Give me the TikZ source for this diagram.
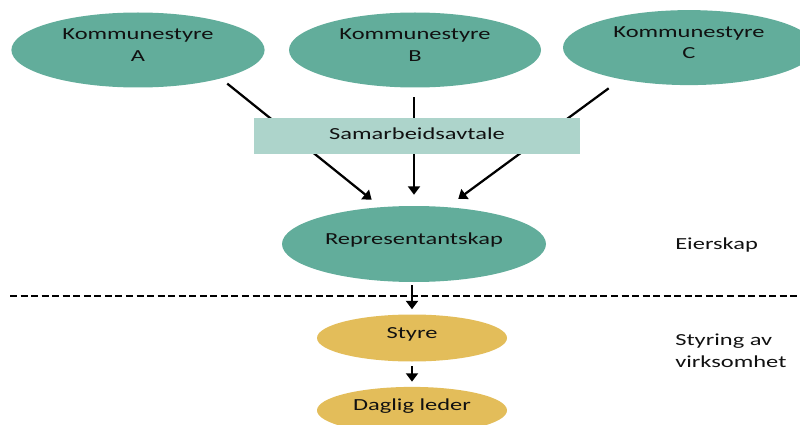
\documentclass[tikz,border=0pt]{standalone}
\usepackage{fontspec}
\setmainfont{Carlito}[FakeStretch=1.45]
\usetikzlibrary{shapes.geometric,arrows.meta}
\definecolor{teal1}{HTML}{62AD9B}
\definecolor{teal2}{HTML}{ADD4CB}
\definecolor{gold1}{HTML}{E3BD5A}
\definecolor{ink}{HTML}{111111}
\begin{document}
\begin{tikzpicture}[>={Triangle[length=6pt,width=8.5pt]},line join=round,
    font=\fontsize{12}{15}\selectfont,text=ink,
    oval/.style={ellipse,inner sep=0pt,align=center},
    tolinjer/.style={oval,text depth=7pt},
    enlinje/.style={oval,text height=8pt,text depth=8pt},
    pil/.style={->,line width=1.6pt,black}]
    \useasboundingbox (0,0) rectangle (20,-10.625);
    % eiere
    \node[tolinjer,fill=teal1,minimum width=6.33cm,minimum height=1.875cm] (ksA) at (3.45,-1.25) {Kommunestyre\\A};
    \node[tolinjer,fill=teal1,minimum width=6.3cm,minimum height=1.875cm] (ksB) at (10.375,-1.25) {Kommunestyre\\B};
    \node[tolinjer,fill=teal1,minimum width=6.3cm,minimum height=1.875cm] (ksC) at (17.225,-1.19) {Kommunestyre\\C};
    \node[enlinje,fill=teal1,minimum width=6.6cm,minimum height=1.9cm] (rep) at (10.35,-6.1) {Representantskap};
    \node[enlinje,fill=gold1,minimum width=4.75cm,minimum height=1.175cm] (styre) at (10.3,-8.45) {Styre};
    \node[enlinje,fill=gold1,minimum width=4.75cm,minimum height=1.175cm] (leder) at (10.3,-10.26) {Daglig leder};
    % piler
    \draw[pil,shorten <=5.7pt,shorten >=8.2pt] (ksA.-19) -- (rep.132);
    \draw[pil,shorten <=6.8pt,shorten >=7.8pt] (rep.north |- ksB.south) -- (rep.north);
    \draw[pil,shorten <=10.7pt,shorten >=9.6pt] (ksC.205) -- (rep.48);
    \draw[pil,shorten <=2pt,shorten >=3.5pt] (styre.north |- rep.south) -- (styre.north);
    \draw[pil,shorten <=3.2pt,shorten >=3.5pt] (styre.south) -- (leder.north);
    \node[fill=teal2,minimum width=8.15cm,minimum height=0.9cm,inner sep=0pt,text height=8pt,text depth=3pt] (avtale) at (10.425,-3.4) {Samarbeidsavtale};
    % skillelinje
    \draw[line width=1.5pt,dash pattern=on 5pt off 2.5pt] (0.25,-7.4) -- (20,-7.4);
    \node[anchor=base west,inner sep=0pt] (eier) at (16.875,-6.225) {Eierskap};
    \node[anchor=base west,inner sep=0pt,align=left] (drift) at (16.875,-9.175) {Styring av\\virksomhet};
\end{tikzpicture}
\end{document}
